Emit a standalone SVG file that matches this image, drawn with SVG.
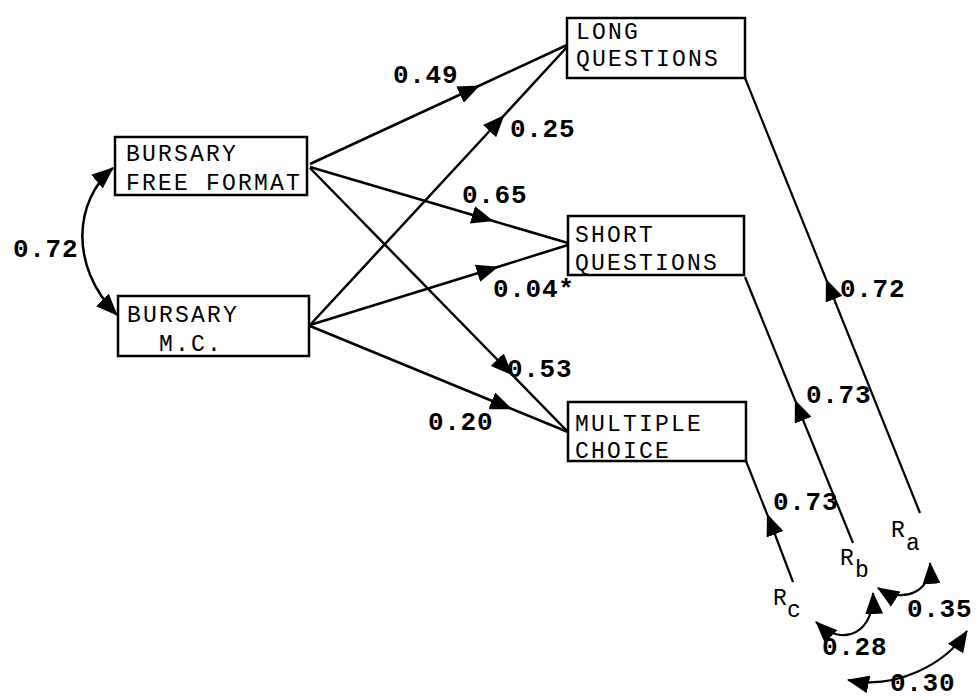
<svg xmlns="http://www.w3.org/2000/svg" width="977" height="700" viewBox="0 0 977 700">
<defs>
<style>
.box{fill:#fff;stroke:#000;stroke-width:2.5}
.bt{font-family:"Liberation Mono","Courier New",monospace;font-size:23px;letter-spacing:2.2px;fill:#000}
.lb{font-family:"Liberation Mono","Courier New",monospace;font-size:26px;font-weight:bold;letter-spacing:0.7px;fill:#000}
.ln{fill:none;stroke:#000;stroke-width:2.5}
.rl{fill:none;stroke:#000;stroke-width:2.2}
.mid{marker-mid:url(#am)}
.both{marker-start:url(#at);marker-end:url(#at)}
</style>
<marker id="am" viewBox="0 0 22 18" refX="11" refY="9" markerWidth="22" markerHeight="18" markerUnits="userSpaceOnUse" orient="auto"><path d="M0,0 L22,9 L0,18 z" fill="#000"/></marker>
<marker id="at" viewBox="0 0 22 18" refX="21" refY="9" markerWidth="22" markerHeight="18" markerUnits="userSpaceOnUse" orient="auto-start-reverse"><path d="M0,0 L22,9 L0,18 z" fill="#000"/></marker>
</defs>
<rect width="977" height="700" fill="#fff"/>
<g id="connectors">
<path class="ln mid" d="M310 164 L470 90 L567 45"/>
<path class="ln mid" d="M310 167 L483 218 L568 243"/>
<path class="ln mid" d="M310 168 L505 367.5 L568 432"/>
<path class="ln mid" d="M310 325 L497 123 L567 47"/>
<path class="ln mid" d="M310 325 L488 270 L568 245"/>
<path class="ln mid" d="M310 326 L502 405 L568 432"/>
<path class="ln both" d="M113 168 C75 200, 68 265, 117 315"/>
<path class="rl mid" d="M920 513 L830 289 L745 78"/>
<path class="rl mid" d="M853 543 L799 410 L745 277"/>
<path class="rl mid" d="M793 582 L771 524 L746 461"/>
<path class="rl both" d="M930 563 C932 590, 905 605, 878 588"/>
<path class="rl both" d="M873 593 C875 630, 845 650, 816 622"/>
<path class="rl both" d="M967 631 C945 665, 895 690, 848 680"/>
</g>
<g id="bff"><rect class="box" x="115" y="137" width="192" height="58"/><text class="bt" x="126" y="161">BURSARY</text><text class="bt" x="126" y="190">FREE FORMAT</text></g>
<g id="bmc"><rect class="box" x="118" y="296" width="191" height="60"/><text class="bt" x="127" y="322">BURSARY</text><text class="bt" x="159" y="351">M.C.</text></g>
<g id="long"><rect class="box" x="567" y="18" width="178" height="60"/><text class="bt" x="576" y="39">LONG</text><text class="bt" x="576" y="66">QUESTIONS</text></g>
<g id="short"><rect class="box" x="568" y="216" width="176" height="59"/><text class="bt" x="575" y="242">SHORT</text><text class="bt" x="575" y="270">QUESTIONS</text></g>
<g id="mc"><rect class="box" x="568" y="402" width="178" height="59"/><text class="bt" x="575" y="431">MULTIPLE</text><text class="bt" x="575" y="458">CHOICE</text></g>
<g id="ra"><text class="bt" x="891" y="537">R</text><text class="bt" x="906" y="550">a</text></g>
<g id="rb"><text class="bt" x="840" y="565">R</text><text class="bt" x="855" y="577">b</text></g>
<g id="rc"><text class="bt" x="773" y="605">R</text><text class="bt" x="787" y="617">c</text></g>
<g id="labels">
<text class="lb" x="393" y="83">0.49</text>
<text class="lb" x="13" y="257">0.72</text>
<text class="lb" x="510" y="137">0.25</text>
<text class="lb" x="462" y="203">0.65</text>
<text class="lb" x="493" y="297">0.04*</text>
<text class="lb" x="507" y="377">0.53</text>
<text class="lb" x="428" y="430">0.20</text>
<text class="lb" x="840" y="297">0.72</text>
<text class="lb" x="806" y="403">0.73</text>
<text class="lb" x="773" y="510">0.73</text>
<text class="lb" x="907" y="617">0.35</text>
<text class="lb" x="822" y="655">0.28</text>
<text class="lb" x="890" y="691">0.30</text>
</g>
</svg>
